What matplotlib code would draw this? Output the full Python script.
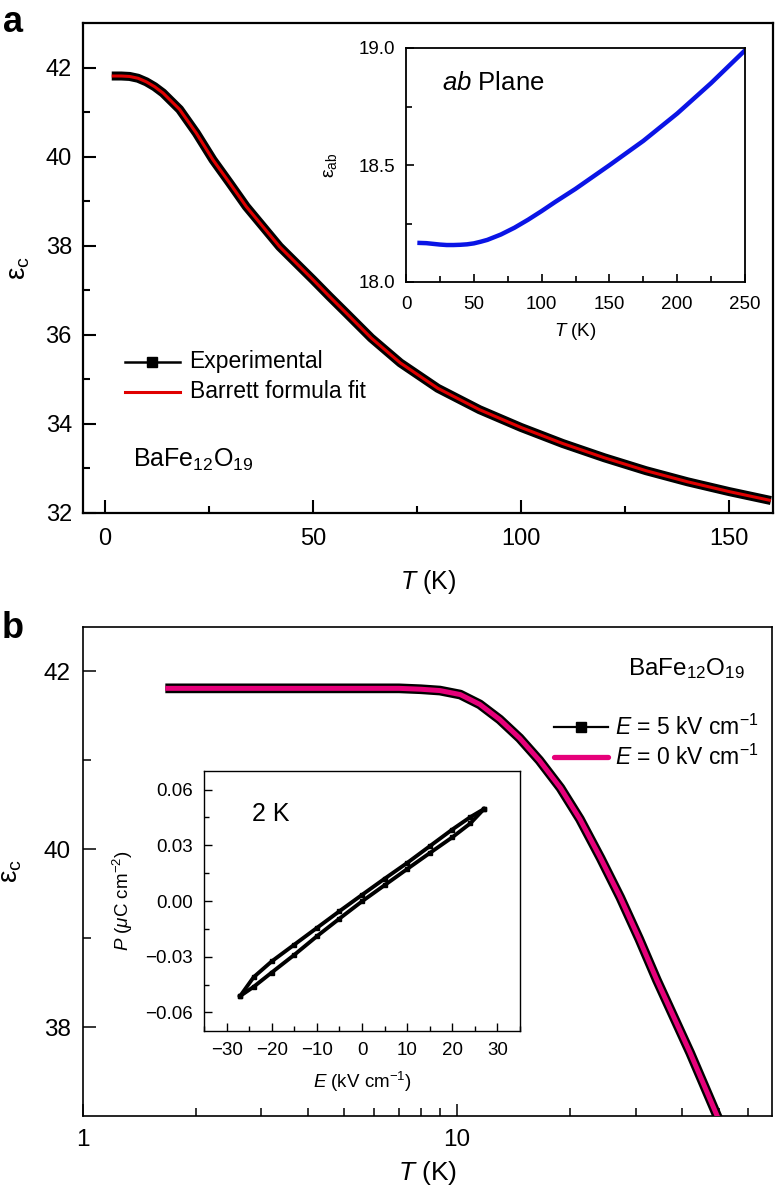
import matplotlib
matplotlib.use("Agg")
import matplotlib.pyplot as plt
from matplotlib.ticker import MultipleLocator, FixedLocator, NullFormatter

plt.rcParams['font.family'] = ['Liberation Sans', 'DejaVu Sans']
plt.rcParams['mathtext.fontset'] = 'custom'
plt.rcParams['mathtext.rm'] = 'Liberation Sans'
plt.rcParams['mathtext.it'] = 'Liberation Sans:italic'
plt.rcParams['mathtext.bf'] = 'Liberation Sans:bold'

# ---- Panel a: epsilon_c vs T ----
T_a = [1.7, 4, 6, 8, 10, 12, 14, 18, 22, 26, 30, 34, 38, 42, 46, 50, 54, 58,
       64, 71, 80, 90, 100, 110, 120, 130, 140, 150, 160]
eps_a = [41.81, 41.81, 41.80, 41.76, 41.68, 41.57, 41.43, 41.06, 40.53, 39.93,
         39.41, 38.88, 38.43, 37.98, 37.61, 37.24, 36.86, 36.49, 35.93, 35.37,
         34.80, 34.32, 33.92, 33.56, 33.24, 32.95, 32.70, 32.48, 32.28]

# ---- Panel a inset: epsilon_ab vs T ----
T_ab = [10, 15, 20, 25, 30, 35, 40, 45, 50, 55, 60, 70, 80, 90, 100, 110,
        125, 150, 175, 200, 225, 250]
eps_ab = [18.167, 18.166, 18.163, 18.160, 18.158, 18.158, 18.159, 18.161,
          18.165, 18.172, 18.180, 18.203, 18.232, 18.266, 18.303, 18.342,
          18.398, 18.499, 18.603, 18.720, 18.850, 18.990]

# ---- Panel b: epsilon_c vs T (log axis) ----
T_b = [1.66, 3, 5, 7, 8, 9, 10.2, 11.5, 13, 14.7, 16.6, 18.9, 21.3, 24.2,
       27.3, 30.7, 34.2, 37.9, 42, 45.7, 49.6, 52]
eps_b5 = [41.81, 41.81, 41.81, 41.81, 41.80, 41.785, 41.74, 41.63, 41.46,
          41.25, 41.0, 40.69, 40.34, 39.90, 39.46, 38.99, 38.53, 38.12, 37.71,
          37.35, 37.0, 36.8]
eps_b0 = list(eps_b5)

# ---- Panel b inset: P-E loop at 2 K ----
E_up = [27, 24, 20, 15, 10, 5, 0, -5, -10, -15, -20, -24, -27]
P_up = [0.0495, 0.0452, 0.0385, 0.0295, 0.0205, 0.012, 0.0033, -0.0055,
        -0.0145, -0.0235, -0.0325, -0.041, -0.0512]
E_down = [-27, -24, -20, -15, -10, -5, 0, 5, 10, 15, 20, 24, 27]
P_down = [-0.0512, -0.0462, -0.0385, -0.029, -0.019, -0.0095, -0.0002, 0.0085,
          0.0172, 0.0258, 0.0343, 0.0418, 0.0495]

W, H = 775, 1192
fig = plt.figure(figsize=(W / 100, H / 100), dpi=100)

def rect(l, t, r, b):
    return [l / W, 1 - b / H, (r - l) / W, (b - t) / H]

RED = '#e00000'
PINK = '#e6007a'

# ================= Panel a =================
ax = fig.add_axes(rect(83, 23, 773, 513))
ax.plot(T_a, eps_a, color='black', lw=6.5, solid_capstyle='butt', zorder=2)
ax.plot(T_a, eps_a, color=RED, lw=2.2, solid_capstyle='butt', zorder=3)
ax.set_xlim(-5.2, 160.5)
ax.set_ylim(32, 43)
ax.xaxis.set_major_locator(MultipleLocator(50))
ax.xaxis.set_minor_locator(MultipleLocator(25))
ax.yaxis.set_major_locator(FixedLocator([32, 34, 36, 38, 40, 42]))
ax.yaxis.set_minor_locator(FixedLocator([33, 35, 37, 39, 41]))
ax.tick_params(which='both', direction='in', labelsize=17, width=1.5)
ax.tick_params(which='major', length=9.5, pad=8)
ax.tick_params(axis='x', which='major', pad=11)
ax.tick_params(which='minor', length=5)
for s in ax.spines.values():
    s.set_linewidth(1.6)
ax.set_xlabel(r'$\mathit{T}$ (K)', fontsize=18, labelpad=13)
ax.set_ylabel('\u03b5$_{\\mathregular{c}}$', fontsize=20, labelpad=10)

# legend (manual)
ax.plot([4.8, 18], [35.39, 35.39], color='black', lw=1.8)
ax.plot([11.4], [35.39], marker='s', ms=6.5, color='black')
ax.plot([4.8, 18], [34.72, 34.72], color=RED, lw=2.2)
ax.text(20.4, 35.39, 'Experimental', fontsize=16.5, va='center', ha='left')
ax.text(20.4, 34.72, 'Barrett formula fit', fontsize=16.5, va='center', ha='left')
ax.text(6.7, 33.19, r'BaFe$_{12}$O$_{19}$', fontsize=18, va='center', ha='left')

fig.text(0.004, 0.996, 'a', fontsize=26, fontweight='bold', va='top')

# inset a
axi = fig.add_axes(rect(406, 48, 745, 282))
axi.plot(T_ab, eps_ab, color='#0a14e6', lw=3.2)
axi.set_xlim(0, 250)
axi.set_ylim(18.0, 19.0)
axi.xaxis.set_major_locator(MultipleLocator(50))
axi.xaxis.set_minor_locator(MultipleLocator(25))
axi.yaxis.set_major_locator(MultipleLocator(0.5))
axi.yaxis.set_minor_locator(MultipleLocator(0.25))
axi.tick_params(which='both', direction='in', labelsize=13.5, width=1.2)
axi.tick_params(which='major', length=6, pad=8)
axi.tick_params(axis='x', which='major', pad=10)
axi.tick_params(which='minor', length=4)
for s in axi.spines.values():
    s.set_linewidth(1.3)
axi.set_xlabel(r'$\mathit{T}$ (K)', fontsize=13.5, labelpad=6)
axi.set_ylabel('\u03b5$_{\\mathregular{ab}}$', fontsize=14, labelpad=14)
axi.text(0.106, 0.85, r'$\mathit{ab}$ Plane', transform=axi.transAxes,
         fontsize=18.5, va='center', ha='left')

# ================= Panel b =================
bx = fig.add_axes(rect(83, 627, 772, 1116))
bx.set_xscale('log')
bx.plot(T_b, eps_b5, color='black', lw=7, solid_capstyle='butt', zorder=2)
bx.plot(T_b, eps_b0, color=PINK, lw=3.6, solid_capstyle='butt', zorder=3)
bx.set_xlim(1, 69.5)
bx.set_ylim(37, 42.5)
bx.xaxis.set_major_locator(FixedLocator([1, 10]))
bx.xaxis.set_minor_locator(FixedLocator([2, 3, 4, 5, 6, 7, 8, 9, 20, 30, 40, 50, 60]))
bx.xaxis.set_minor_formatter(NullFormatter())
bx.set_xticklabels(['1', '10'])
bx.yaxis.set_major_locator(FixedLocator([38, 40, 42]))
bx.yaxis.set_minor_locator(FixedLocator([39, 41]))
bx.tick_params(which='both', direction='in', labelsize=17.5, width=1.1)
bx.tick_params(which='major', length=9, pad=9)
bx.tick_params(which='minor', length=5.5)
for s in bx.spines.values():
    s.set_linewidth(1.2)
bx.set_xlabel(r'$\mathit{T}$ (K)', fontsize=19, labelpad=6)
bx.set_ylabel('\u03b5$_{\\mathregular{c}}$', fontsize=20, labelpad=14)

bx.text(0.96, 0.916, r'BaFe$_{12}$O$_{19}$', transform=bx.transAxes,
        fontsize=17.5, ha='right', va='center')
bx.plot([0.684, 0.762], [0.795, 0.795], transform=bx.transAxes, color='black', lw=1.6)
bx.plot([0.723], [0.795], transform=bx.transAxes, marker='s', ms=6.5, color='black')
bx.plot([0.684, 0.762], [0.734, 0.734], transform=bx.transAxes, color=PINK, lw=3.8,
        solid_capstyle='round')
bx.text(0.772, 0.795, r'$\mathit{E}$ = 5 kV cm$^{-1}$', transform=bx.transAxes,
        fontsize=16.5, va='center', ha='left')
bx.text(0.772, 0.734, r'$\mathit{E}$ = 0 kV cm$^{-1}$', transform=bx.transAxes,
        fontsize=16.5, va='center', ha='left')

fig.text(0.002, 0.487, 'b', fontsize=26, fontweight='bold', va='top')

# inset b
bxi = fig.add_axes(rect(204, 771, 520, 1031))
bxi.plot(E_up, P_up, color='black', lw=2.8, marker='s', ms=2.5)
bxi.plot(E_down, P_down, color='black', lw=2.8, marker='s', ms=2.5)
bxi.set_xlim(-35, 35)
bxi.set_ylim(-0.07, 0.07)
bxi.xaxis.set_minor_locator(MultipleLocator(5))
bxi.yaxis.set_minor_locator(MultipleLocator(0.015))
bxi.set_yticks([-0.06, -0.03, 0.0, 0.03, 0.06])
bxi.set_yticklabels(['\u22120.06', '\u22120.03', '0.00', '0.03', '0.06'])
bxi.set_xticks([-30, -20, -10, 0, 10, 20, 30])
bxi.set_xticklabels(['\u221230', '\u221220', '\u221210', '0', '10', '20', '30'])
bxi.tick_params(which='both', direction='in', labelsize=13.5, width=1.0)
bxi.tick_params(which='major', length=6, pad=8)
bxi.tick_params(which='minor', length=3.5)
for s in bxi.spines.values():
    s.set_linewidth(1.0)
bxi.set_xlabel(r'$\mathit{E}$ (kV cm$^{-1}$)', fontsize=13.5, labelpad=8)
bxi.set_ylabel(r'$\mathit{P}$ ($\mu$C cm$^{-2}$)', fontsize=13.5, labelpad=7)
bxi.text(0.21, 0.835, '2 K', transform=bxi.transAxes, fontsize=18,
         va='center', ha='center')

fig.savefig('out.png', dpi=100)
